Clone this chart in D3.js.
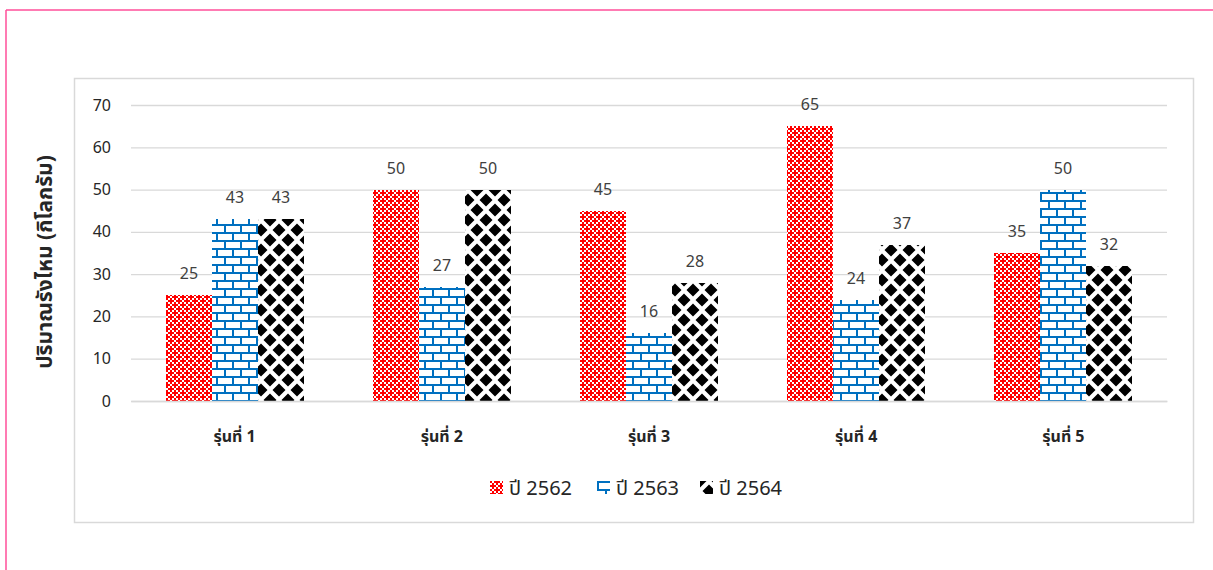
<!DOCTYPE html>
<html><head><meta charset="utf-8">
<script src="https://cdn.jsdelivr.net/npm/d3@7"></script>
<style>
html,body{margin:0;padding:0;background:#fff;}
svg{display:block;}
text{font-family:"Noto Sans","Noto Sans Thai",Tahoma,"DejaVu Sans",sans-serif;}
</style></head>
<body>
<svg id="c" width="1213" height="570"></svg>
<script>
const categories = ["รุ่นที่ 1","รุ่นที่ 2","รุ่นที่ 3","รุ่นที่ 4","รุ่นที่ 5"];
const seriesNames = ["ปี 2562","ปี 2563","ปี 2564"];
const values2562 = [25,50,45,65,35];
const values2563 = [43,27,16,24,50];
const values2564 = [43,50,28,37,32];
const yTicks = [0,10,20,30,40,50,60,70];
const yTitle = "ปริมาณรังไหม (กิโลกรัม)";

(function(){
const seriesValues = [values2562, values2563, values2564];
const svg = d3.select("#c");
const defs = svg.append("defs");

// red pattern: 2px cells, diamond-lattice with white holes
const pr = defs.append("pattern").attr("id","pRed").attr("patternUnits","userSpaceOnUse").attr("width",8).attr("height",8);
pr.append("rect").attr("width",8).attr("height",8).attr("fill","#fff");
const redCells = [
 [1,0,1,1],
 [0,1,0,1],
 [1,1,1,0],
 [0,1,0,1]
];
let dRed="";
redCells.forEach((row,j)=>row.forEach((c,i)=>{ if(c) dRed+=`M${i*2},${j*2}h2v2h-2Z`; }));
pr.append("path").attr("d",dRed).attr("fill","#FF0000").attr("shape-rendering","crispEdges");
// blue brick
const pb = defs.append("pattern").attr("id","pBlue").attr("patternUnits","userSpaceOnUse").attr("width",16).attr("height",16);
pb.append("rect").attr("width",16).attr("height",16).attr("fill","#fff");
pb.append("path").attr("d","M0,0h16v2h-16Z M0,8h16v2h-16Z M0,0h2v8h-2Z M8,8h2v8h-2Z").attr("fill","#0070C0").attr("shape-rendering","crispEdges");
// black solid diamonds on offset rows
const KW=18, KH=20;
const pk = defs.append("pattern").attr("id","pBlack").attr("patternUnits","userSpaceOnUse").attr("width",KW).attr("height",KH);
pk.append("rect").attr("width",KW).attr("height",KH).attr("fill","#fff");
const rx=6.5, ry=6.5;
let dK="";
[[KW/2,KH/2],[0,0],[KW,0],[0,KH],[KW,KH]].forEach(([cx,cy])=>{
  dK+=`M${cx},${cy-ry}L${cx+rx},${cy}L${cx},${cy+ry}L${cx-rx},${cy}Z`;
});
pk.append("path").attr("d",dK).attr("fill","#000");
const fills = ["url(#pRed)","url(#pBlue)","url(#pBlack)"];

// outer pink border (top and left)
svg.append("line").attr("x1",6).attr("x2",1213).attr("y1",10).attr("y2",10).attr("stroke","#FF4F9A").attr("stroke-width",1.5);
svg.append("line").attr("x1",6).attr("x2",6).attr("y1",10).attr("y2",570).attr("stroke","#FF4F9A").attr("stroke-width",1.5);

// chart area box
svg.append("rect").attr("x",74.5).attr("y",78.5).attr("width",1119).attr("height",444).attr("fill","#fff").attr("stroke","#D9D9D9").attr("stroke-width",1.5);

const pLeft=131, pRight=1167, pTop=105, pBottom=401;
const y = d3.scaleLinear().domain([0,70]).range([pBottom,pTop]);
const x0 = d3.scaleBand().domain(categories).range([pLeft,pRight]).padding(0);
const x1 = d3.scaleBand().domain(seriesNames).range([0,x0.bandwidth()]).paddingInner(0).paddingOuter(0.75);

// gridlines
const yAxis = d3.axisLeft(y).tickValues(yTicks).tickSize(-(pRight-pLeft)).tickPadding(20);
const gy = svg.append("g").attr("transform",`translate(${pLeft},0)`).call(yAxis);
gy.select(".domain").remove();
gy.selectAll(".tick line").attr("stroke","#D9D9D9").attr("stroke-width",1.3);
gy.selectAll(".tick text").attr("fill","#262626").attr("font-size",16).style("font-family","'Noto Sans',Tahoma,sans-serif");

// bars
const barData = [];
categories.forEach((c,i)=>seriesNames.forEach((s,j)=>barData.push({c,s,j,v:seriesValues[j][i]})));
const bx = d=>Math.round(x0(d.c)+x1(d.s));
const bw = Math.round(x1.bandwidth());
svg.append("g").selectAll("rect").data(barData).join("rect")
 .attr("x",bx).attr("width",bw)
 .attr("y",d=>Math.round(y(d.v))).attr("height",d=>pBottom-Math.round(y(d.v)))
 .attr("fill",d=>fills[d.j]);
svg.append("g").selectAll("text").data(barData).join("text")
 .attr("x",d=>bx(d)+bw/2).attr("y",d=>y(d.v)-16)
 .attr("text-anchor","middle").attr("font-size",16).attr("fill","#404040")
 .text(d=>d.v);

// x axis
const xAxis = d3.axisBottom(x0).tickSize(0).tickPadding(30);
const gx = svg.append("g").attr("transform",`translate(0,${pBottom})`).call(xAxis);
gx.select(".domain").attr("stroke","#D9D9D9").attr("stroke-width",1.3);
gx.selectAll(".tick text").attr("fill","#262626").attr("font-size",16).attr("font-weight","bold");

// y title
svg.append("text").attr("transform",`translate(52,${(pTop+pBottom)/2+9}) rotate(-90)`)
 .attr("text-anchor","middle").attr("font-size",21).attr("font-weight","bold").attr("fill","#262626").text(yTitle);

// legend
const legendX = [490,597,700];
const lg = svg.append("g").selectAll("g").data(seriesNames).join("g").attr("transform",(d,i)=>`translate(${legendX[i]},481)`);
lg.append("rect").attr("width",13).attr("height",13).attr("fill",(d,i)=>fills[i]);
lg.append("text").attr("x",19).attr("y",14).attr("font-size",20).attr("fill","#262626").text(d=>d);
})();
</script>
</body></html>
